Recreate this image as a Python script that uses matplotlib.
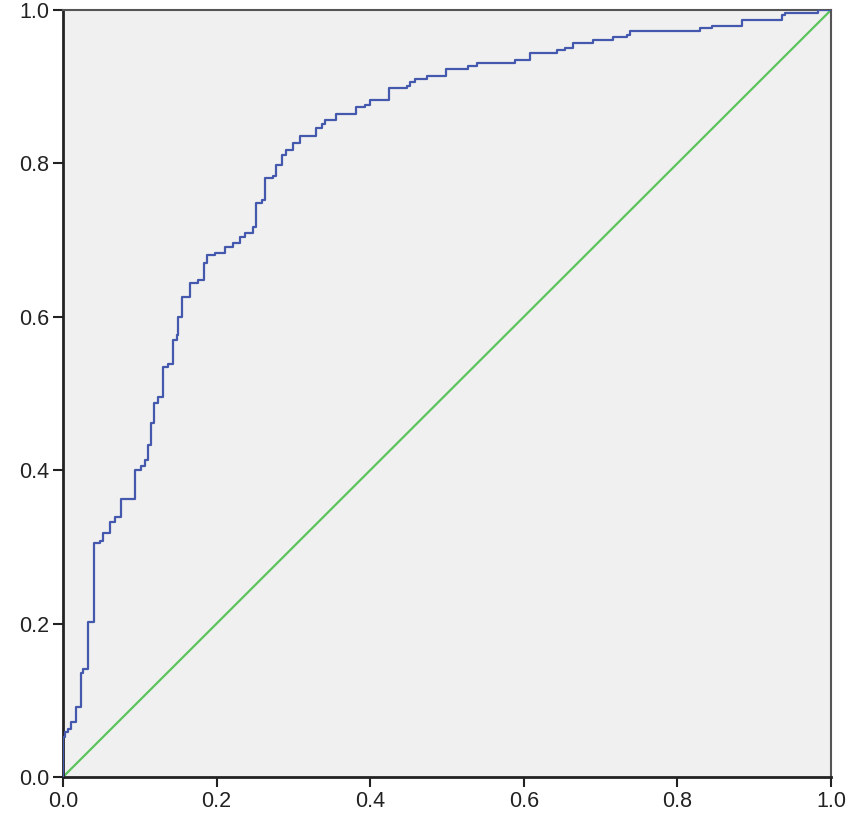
import matplotlib
matplotlib.use("Agg")
import matplotlib.pyplot as plt


# 1 - specificity (x) where the ROC curve steps up, and sensitivity (y) after each step
fpr = [0.000, 0.003, 0.007, 0.011, 0.017, 0.024, 0.026, 0.032, 0.040, 0.048,
       0.052, 0.061, 0.068, 0.076, 0.094, 0.102, 0.107, 0.111, 0.114, 0.118,
       0.124, 0.130, 0.137, 0.143, 0.148, 0.150, 0.155, 0.165, 0.176, 0.183,
       0.187, 0.198, 0.211, 0.222, 0.230, 0.237, 0.248, 0.251, 0.259, 0.263,
       0.274, 0.278, 0.285, 0.291, 0.300, 0.309, 0.330, 0.337, 0.341, 0.356,
       0.382, 0.393, 0.400, 0.424, 0.448, 0.452, 0.458, 0.474, 0.499, 0.528,
       0.539, 0.589, 0.608, 0.643, 0.654, 0.664, 0.690, 0.716, 0.734, 0.738,
       0.829, 0.845, 0.884, 0.936, 0.940, 0.983, 1.000]
tpr = [0.052, 0.059, 0.063, 0.072, 0.091, 0.136, 0.141, 0.202, 0.305, 0.308,
       0.318, 0.333, 0.339, 0.363, 0.400, 0.405, 0.413, 0.433, 0.461, 0.487,
       0.496, 0.535, 0.539, 0.570, 0.576, 0.600, 0.626, 0.644, 0.648, 0.670,
       0.681, 0.683, 0.691, 0.696, 0.704, 0.709, 0.717, 0.748, 0.752, 0.781,
       0.783, 0.798, 0.811, 0.817, 0.826, 0.836, 0.846, 0.852, 0.857, 0.865,
       0.874, 0.876, 0.883, 0.898, 0.901, 0.906, 0.910, 0.914, 0.923, 0.927,
       0.931, 0.935, 0.944, 0.948, 0.950, 0.957, 0.961, 0.965, 0.967, 0.972,
       0.976, 0.979, 0.987, 0.993, 0.996, 1.000, 1.000]

ref_line = [0.0, 1.0]
tick_values = [0.0, 0.2, 0.4, 0.6, 0.8, 1.0]
tick_labels = ["0.0", "0.2", "0.4", "0.6", "0.8", "1.0"]


def main():
    plt.rcParams["font.family"] = ["Liberation Sans", "DejaVu Sans"]

    fig = plt.figure(figsize=(8.51, 8.19), dpi=100)
    ax = fig.add_axes([0.074, 0.0513, 0.9025, 0.9365])
    ax.set_facecolor("#f0f0f0")

    # diagonal reference line
    ax.plot(ref_line, ref_line, color="#5cc45c", linewidth=1.6, zorder=2)

    # ROC curve, starting at the origin
    xs = [0.0] + fpr
    ys = [0.0] + tpr
    ax.plot(xs, ys, drawstyle="steps-post", color="#4459ad", linewidth=1.6, zorder=3)

    ax.set_xlim(0, 1)
    ax.set_ylim(0, 1)
    ax.set_xticks(tick_values)
    ax.set_xticklabels(tick_labels)
    ax.set_yticks(tick_values)
    ax.set_yticklabels(tick_labels)
    ax.tick_params(direction="out", length=7, width=1.5, labelsize=15.5,
                   color="#222222", labelcolor="#222222", pad=3)

    for side in ["left", "bottom"]:
        ax.spines[side].set_color("#222222")
        ax.spines[side].set_linewidth(2.0)
    for side in ["top", "right"]:
        ax.spines[side].set_color("#555555")
        ax.spines[side].set_linewidth(1.5)

    fig.savefig("out.png", dpi=100)
    plt.close(fig)


if __name__ == "__main__":
    main()
